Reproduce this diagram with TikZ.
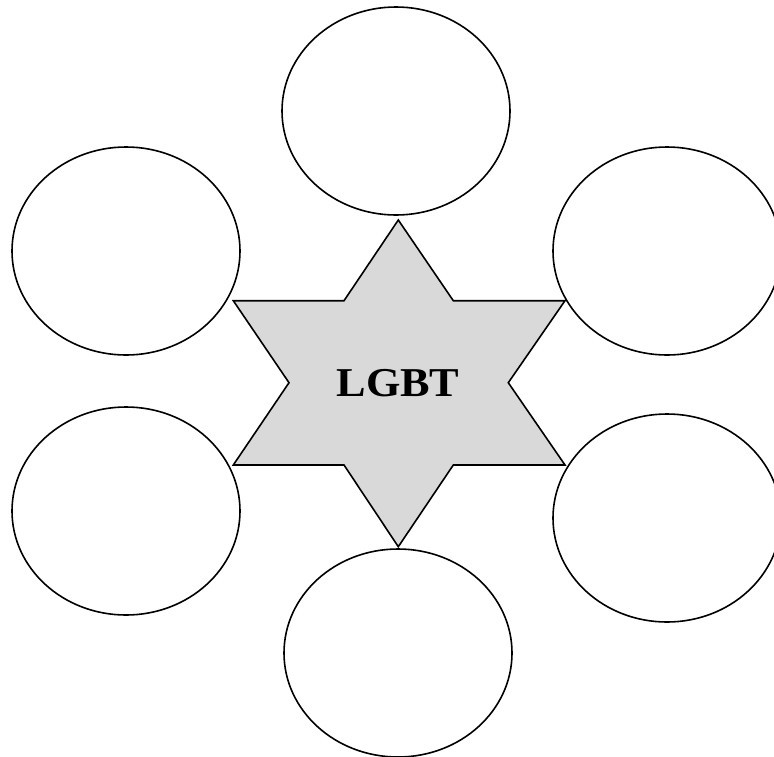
\documentclass[tikz,border=0pt]{standalone}
\usepackage{fontspec}
\setmainfont{Liberation Serif}
\newfontfamily\labelfont[FakeStretch=1.08]{Liberation Serif}
\usetikzlibrary{shapes.geometric}
\begin{document}
\begin{tikzpicture}[x=1pt,y=-1pt,
  bubble/.style={draw=black,line width=1.6pt,ellipse,minimum width=228pt,minimum height=208pt,inner sep=0pt},
  starshape/.style={draw=black,line width=1.6pt,fill=starfill,line join=miter}]
\definecolor{starfill}{HTML}{D9D9D9}
\useasboundingbox (0,0) rectangle (774,756);
\clip (0,0) rectangle (774,756);
\node[bubble] (top) at (396,111) {};
\node[bubble] (ul) at (126,251) {};
\node[bubble] (ur) at (667,251) {};
\node[bubble] (ll) at (126,511) {};
\node[bubble] (lr) at (667,518) {};
\node[bubble] (bot) at (398,653) {};
\draw[starshape] (398.3,220) -- (453.3,300.7) -- (565,300.7) -- (508.3,382.7) -- (565,465) -- (453.3,465) -- (398.3,546.7) -- (344,465) -- (233.3,465) -- (289,382.7) -- (233.3,300.7) -- (344,300.7) -- cycle;
\node[font=\labelfont\fontsize{41}{48}\selectfont\bfseries] (lgbt) at (398,383) {LGBT};
\end{tikzpicture}
\end{document}
